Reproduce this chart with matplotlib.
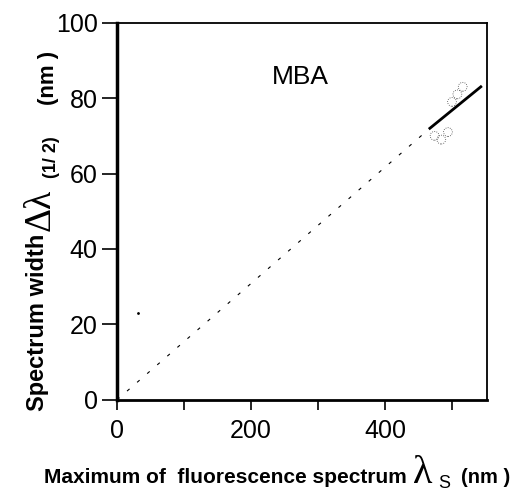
import matplotlib.pyplot as plt
from matplotlib.ticker import FixedLocator, FuncFormatter

plt.rcParams['font.family'] = ['Liberation Sans', 'DejaVu Sans']

# dashed guide line through origin
guide_x = [0, 467]
guide_y = [0, 72]
# solid fitted segment
fit_x = [467, 543]
fit_y = [72, 83]
# measured points (faint open circles)
pts_x = [474, 484, 494, 500, 508, 516]
pts_y = [70, 69, 71, 79, 81, 83]
# stray mark
stray_x = [31]
stray_y = [23]

xticks = [0, 100, 200, 300, 400, 500]
xlabels_shown = [0, 200, 400]
yticks = [0, 20, 40, 60, 80, 100]

fig = plt.figure(figsize=(5.13, 4.93), dpi=100)
ax = fig.add_axes([0.228, 0.189, 0.721, 0.765])

ax.plot(guide_x, guide_y, color='black', lw=0.8, linestyle=(0, (3, 9)))
ax.plot(fit_x, fit_y, color='black', lw=2)
ax.scatter(pts_x, pts_y, s=40, facecolors='none', edgecolors='#444444',
           linewidths=0.6, linestyles=':')
ax.plot(stray_x, stray_y, marker='.', ms=2, color='black', lw=0)

ax.text(273, 85.5, 'MBA', fontsize=19, ha='center', va='center')

ax.set_xlim(0, 552)
ax.set_ylim(0, 100)
ax.xaxis.set_major_locator(FixedLocator(xticks))
ax.xaxis.set_major_formatter(FuncFormatter(lambda v, p: f'{int(v)}' if int(v) in xlabels_shown else ''))
ax.yaxis.set_major_locator(FixedLocator(yticks))
ax.tick_params(axis='x', direction='out', length=7.5, width=1.2, labelsize=18, pad=6)
ax.tick_params(axis='y', direction='out', length=11, width=1.2, labelsize=18, pad=3)

ax.spines['left'].set_linewidth(2.5)
ax.spines['bottom'].set_linewidth(2)
ax.spines['top'].set_linewidth(1.3)
ax.spines['right'].set_linewidth(1.3)

serif = ['Liberation Serif', 'DejaVu Serif']

# y label pieces
fig.text(0.074, 0.347, 'Spectrum width', rotation=90, fontsize=17, fontweight='bold',
         ha='center', va='center')
fig.text(0.078, 0.574, 'Δλ', rotation=90, fontsize=27, family=serif,
         ha='center', va='center')
fig.text(0.100, 0.682, '(1/ 2)', rotation=90, fontsize=13, fontweight='bold',
         ha='center', va='center')
fig.text(0.095, 0.842, '(nm )', rotation=90, fontsize=16, fontweight='bold',
         ha='center', va='center')

# x label pieces
fig.text(0.439, 0.020, 'Maximum of  fluorescence spectrum', fontsize=15, fontweight='bold',
         ha='center', va='baseline')
fig.text(0.823, 0.020, 'λ', fontsize=29, family=serif, ha='center', va='baseline')
fig.text(0.866, 0.003, 'S', fontsize=13, ha='center', va='bottom')
fig.text(0.947, 0.020, '(nm )', fontsize=14.5, fontweight='bold', ha='center', va='baseline')

plt.savefig('out.png', dpi=100)
